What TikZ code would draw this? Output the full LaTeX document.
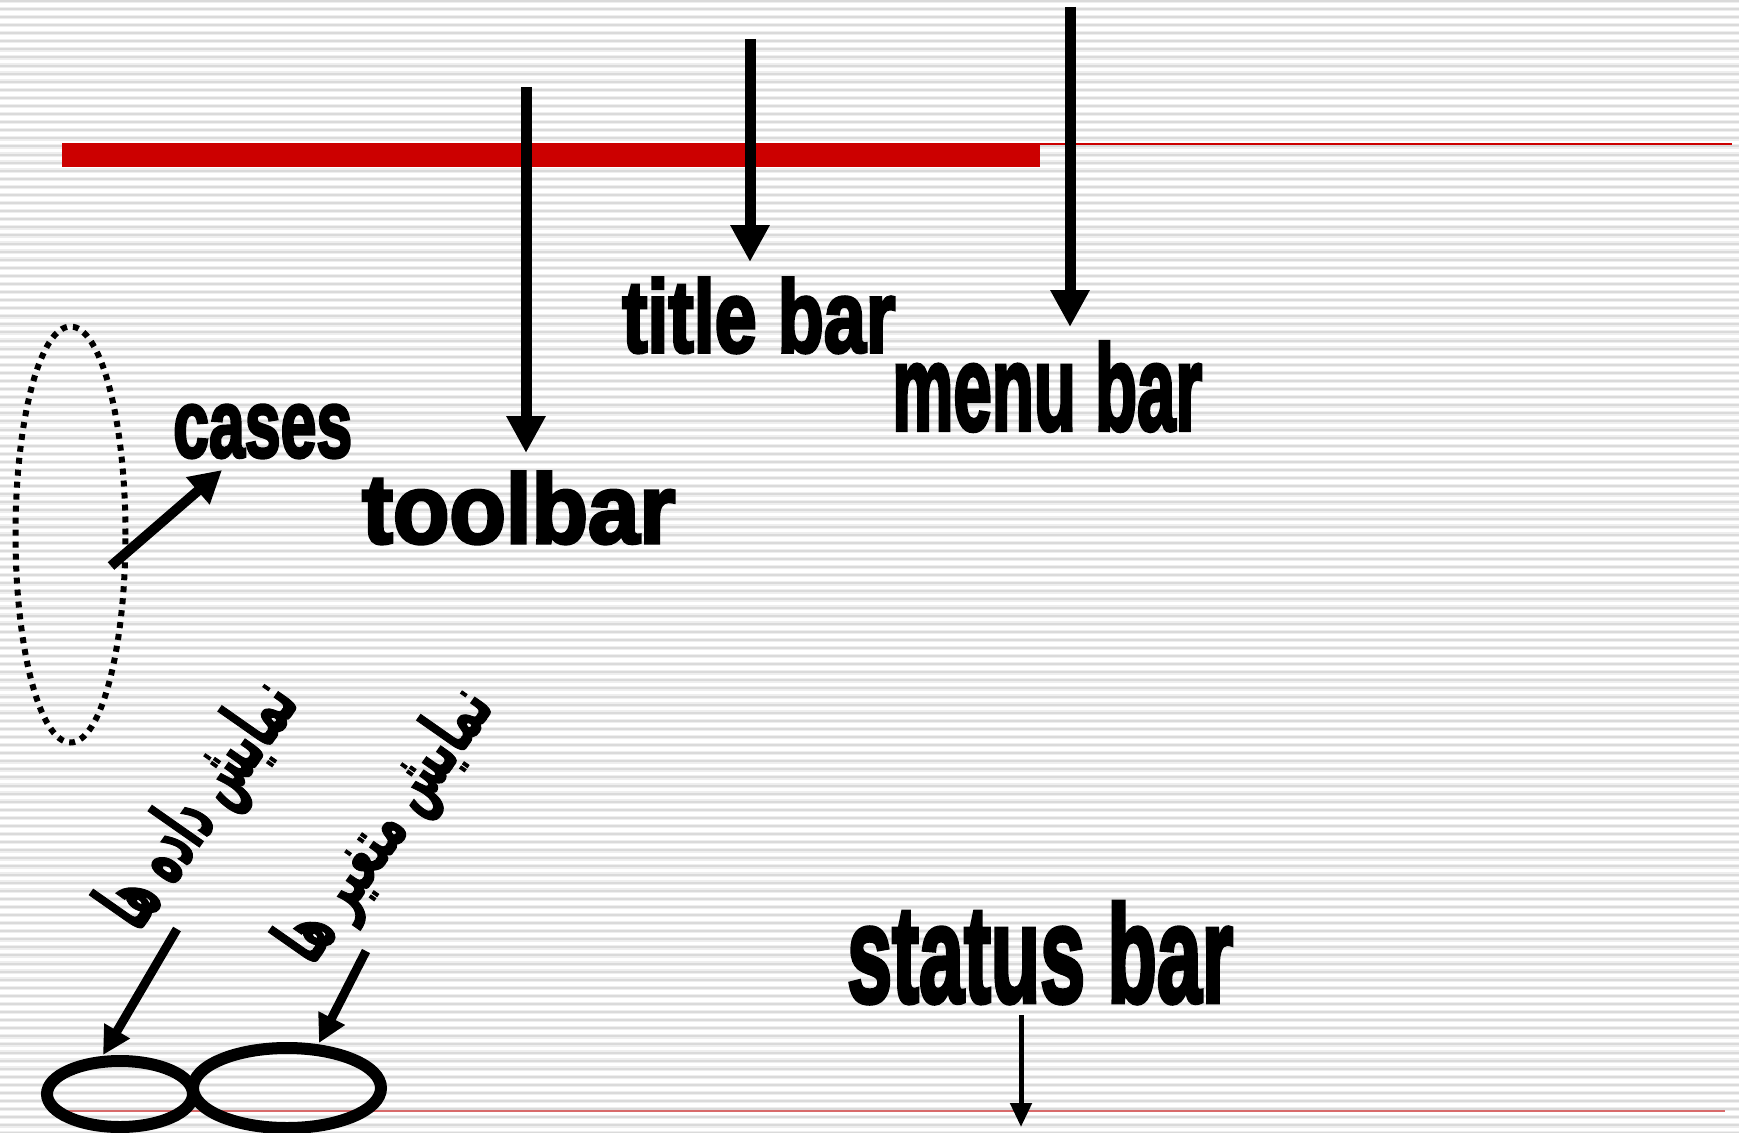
\documentclass[tikz,border=0pt]{standalone}
\usepackage{fontspec}
\usepackage{graphicx}
\usetikzlibrary{arrows.meta,shapes.geometric}
\TeXXeTstate=1
\setmainfont{Liberation Sans}
\newfontfamily\impactfont[BoldFeatures={FakeBold=3.5}]{Liberation Sans}
\newfontfamily\arabicfont[Script=Arabic, BoldFeatures={FakeBold=2}]{DejaVu Sans}
\definecolor{barred}{HTML}{CC0000}
\definecolor{lowred}{HTML}{D86A6A}
\definecolor{stripedark}{HTML}{DADADA}
\definecolor{stripelight}{HTML}{EEEEEE}
\begin{document}
\begin{tikzpicture}[x=1pt,y=-1pt,
  stripeA/.style={line width=4.5pt, draw=stripelight},
  stripeB/.style={line width=2pt, draw=stripedark},
  bigarrow/.style={line width=11pt, -{Triangle[length=37pt,width=37pt]}},
  midarrow/.style={line width=10pt, -{Triangle[length=32pt,width=34pt]}},
  faarrow/.style={line width=9pt, -{Triangle[length=28pt,width=28pt]}},
  smallarrow/.style={line width=5pt, -{Triangle[length=24pt,width=21pt]}},
  lbl/.style={inner sep=0pt, anchor=base west, font=\impactfont\bfseries},
  fa/.style={inner sep=0pt, rotate=55, font=\arabicfont\bfseries},
  ring/.style={draw, ellipse, line width=12pt, inner sep=0pt},
]
\useasboundingbox (0,0) rectangle (1739,1132);
\clip (0,0) rectangle (1739,1132);
\fill[white] (0,0) rectangle (1739,1132);
% background stripes
\foreach \k in {0,...,140} {
  \draw[stripeA] (0,{0.8+8.09*\k}) -- (1739,{0.8+8.09*\k});
  \draw[stripeB] (0,{0.8+8.09*\k}) -- (1739,{0.8+8.09*\k});
}
% red rules
\fill[barred] (62,143) rectangle (1040,167);
\fill[barred] (1040,143) rectangle (1732,145);
\draw[lowred, line width=1.6pt] (66,1111) -- (1725,1111);

% labels
\node[lbl] (title) at (622,352) {\resizebox{273pt}{74pt}{title bar}};
\node[lbl] (menu) at (892,430) {\resizebox{310pt}{88pt}{menu bar}};
\node[lbl] (cases) at (173,457) {\resizebox{179pt}{52pt}{cases}};
\node[lbl] (toolbar) at (362,543) {\resizebox{313pt}{71pt}{toolbar}};
\node[lbl] (status) at (847,1002) {\resizebox{386pt}{100pt}{status bar}};

\node[fa] (data) at (202,806) {\resizebox{282pt}{62pt}{\beginR نمایش داده ها\endR}};
\node[fa] (vars) at (388,826) {\resizebox{318pt}{56pt}{\beginR نمایش متغیر ها\endR}};

% shapes
\node[draw, ellipse, line width=6pt, dash pattern=on 6pt off 6pt,
      minimum width=110pt, minimum height=416pt, inner sep=0pt] (group) at (70.5,534.5) {};
\node[ring, minimum width=146pt, minimum height=66pt] (ringL) at (120,1094) {};
\node[ring, minimum width=188pt, minimum height=80pt] (ringR) at (287,1088) {};

% arrow end points
\coordinate (tbS) at (526,87);   \coordinate (tbE) at (526,453);
\coordinate (tiS) at (750,39);   \coordinate (tiE) at (750,262);
\coordinate (mbS) at (1070,7);   \coordinate (mbE) at (1070,327);
\coordinate (sbS) at (1021,1015); \coordinate (sbE) at (1021,1127);
\coordinate (caS) at (111,566);  \coordinate (caE) at (222,470);
\coordinate (d1S) at (177,929);  \coordinate (d1E) at (103,1055);
\coordinate (d2S) at (366,951);  \coordinate (d2E) at (319,1043);

\draw[bigarrow] (tbS) -- (tbE);
\draw[bigarrow] (tiS) -- (tiE);
\draw[bigarrow] (mbS) -- (mbE);
\draw[smallarrow] (sbS) -- (sbE);
\draw[midarrow] (caS) -- (caE);
\draw[faarrow] (d1S) -- (d1E);
\draw[faarrow] (d2S) -- (d2E);
\end{tikzpicture}
\end{document}
